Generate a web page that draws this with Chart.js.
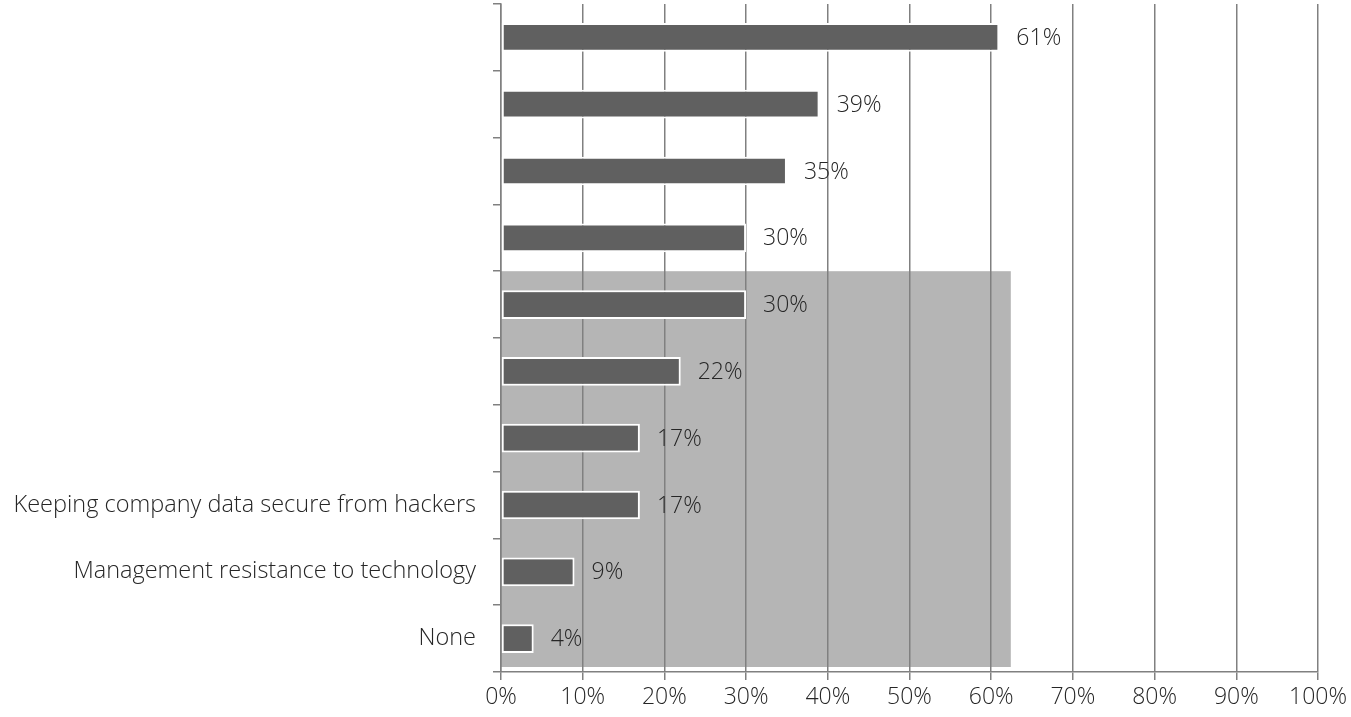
<!DOCTYPE html>
<html>
<head>
<meta charset="utf-8">
<script src="https://cdn.jsdelivr.net/npm/chart.js@4"></script>
<style>
  html, body { margin: 0; padding: 0; background: #ffffff; }
  #wrap { width: 1351px; height: 717px; }
</style>
</head>
<body>
<div id="wrap"><canvas id="barChart"></canvas></div>
<script>
// Categories (top rows have no readable label in the picture)
const categories = ['', '', '', '', '', '', '',
    'Keeping company data secure from hackers',
    'Management resistance to technology',
    'None'];
const shares = [61, 39, 35, 30, 30, 22, 17, 17, 9, 4];
const xTicks = [0, 10, 20, 30, 40, 50, 60, 70, 80, 90, 100];

const FONT = '"Open Sans", "Noto Sans", sans-serif';

// grey wash seen behind the lower rows of the reference
const greyWash = {
    id: 'greyWash',
    beforeDraw(chart) {
        const { ctx, scales: { x, y }, chartArea } = chart;
        const left = x.getPixelForValue(0);
        const right = x.getPixelForValue(62.4);
        const top = y.getPixelForValue(3.5);
        ctx.save();
        ctx.fillStyle = '#b5b5b5';
        ctx.fillRect(left, top, right - left, chartArea.bottom - 5 - top);
        ctx.restore();
    }
};

// value labels at bar ends
const valueLabels = {
    id: 'valueLabels',
    afterDatasetsDraw(chart) {
        const { ctx } = chart;
        const meta = chart.getDatasetMeta(0);
        ctx.save();
        ctx.font = '300 23px ' + FONT;
        ctx.fillStyle = '#262626';
        ctx.textBaseline = 'middle';
        meta.data.forEach((bar, i) => {
            ctx.fillText(shares[i] + '%', bar.x + 17, bar.y + 1);
        });
        ctx.restore();
    }
};

new Chart(document.getElementById('barChart'), {
    type: 'bar',
    data: {
        labels: categories,
        datasets: [{
            data: shares,
            backgroundColor: '#606060',
            borderColor: '#ffffff',
            borderWidth: 2,
            borderSkipped: false,
            categoryPercentage: 1,
            barPercentage: 0.43
        }]
    },
    options: {
        indexAxis: 'y',
        responsive: true,
        maintainAspectRatio: false,
        animation: false,
        layout: { padding: { top: 4, right: 33, left: 0, bottom: 0 } },
        plugins: {
            legend: { display: false },
            tooltip: { enabled: false }
        },
        scales: {
            x: {
                min: 0,
                max: 100,
                afterBuildTicks(scale) {
                    scale.ticks = xTicks.map(v => ({ value: v }));
                },
                afterFit(scale) { scale.height = 45; },
                ticks: {
                    callback: v => v + '%',
                    color: '#262626',
                    font: { family: FONT, size: 23, weight: '300' },
                    padding: 4,
                    maxRotation: 0
                },
                grid: {
                    color: '#808080',
                    lineWidth: 1.5,
                    tickLength: 8,
                    tickColor: '#808080'
                },
                border: { color: '#808080', width: 1.5 }
            },
            y: {
                afterFit(scale) {
                    scale.width = 501;
                    scale.paddingTop = 0;
                    scale.paddingBottom = 0;
                },
                ticks: {
                    color: '#262626',
                    font: { family: FONT, size: 23.5, weight: '300' },
                    padding: 17
                },
                grid: {
                    drawOnChartArea: false,
                    tickLength: 8,
                    color: '#808080',
                    lineWidth: 1.5
                },
                border: { color: '#808080', width: 1.5 }
            }
        }
    },
    plugins: [greyWash, valueLabels]
});
</script>
</body>
</html>
